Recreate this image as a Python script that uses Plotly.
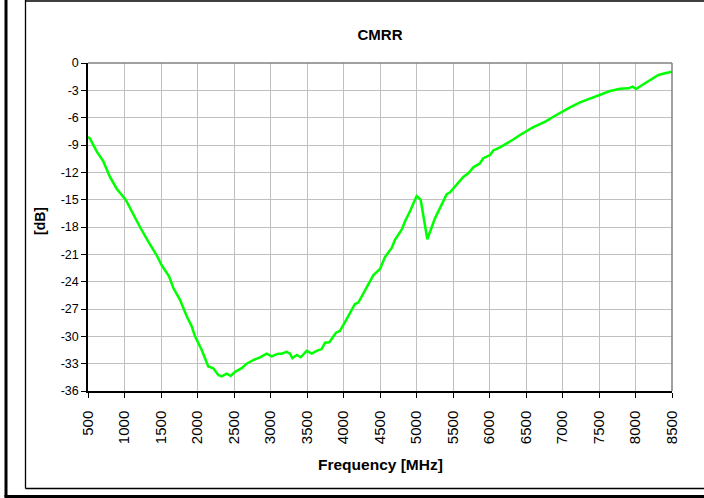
import plotly.graph_objects as go

freq_mhz = [500, 527, 619, 710, 801, 893, 1016, 1098, 1212, 1326, 1441, 1510, 1610, 1669, 1760,
            1852, 1920, 1966, 2058, 2148, 2216, 2285, 2331, 2400, 2455, 2514, 2605, 2674, 2765,
            2856, 2948, 3016, 3107, 3153, 3222, 3267, 3299, 3360, 3414, 3496, 3564, 3633, 3701,
            3747, 3806, 3897, 3952, 4043, 4157, 4203, 4317, 4408, 4500, 4568, 4660, 4705, 4797,
            4842, 4920, 5002, 5057, 5148, 5253, 5345, 5414, 5460, 5551, 5641, 5710, 5779, 5870,
            5915, 6007, 6052, 6143, 6258, 6326, 6418, 6509, 6600, 6692, 6783, 6874, 6966, 7103,
            7240, 7377, 7514, 7651, 7788, 7902, 7962, 8008, 8108, 8200, 8314, 8405, 8500]
cmrr_db = [-8.1, -8.3, -9.7, -10.8, -12.5, -13.8, -15.0, -16.3, -18.0, -19.6, -21.1, -22.2, -23.4,
           -24.7, -26.0, -27.8, -28.9, -30.0, -31.5, -33.3, -33.5, -34.25, -34.4, -34.1, -34.35,
           -33.9, -33.5, -33.0, -32.6, -32.3, -31.9, -32.2, -31.9, -31.9, -31.7, -31.9, -32.4,
           -32.05, -32.3, -31.6, -31.9, -31.6, -31.4, -30.7, -30.65, -29.6, -29.4, -28.1, -26.45,
           -26.3, -24.7, -23.3, -22.6, -21.3, -20.3, -19.4, -18.3, -17.4, -16.1, -14.6, -15.0,
           -19.35, -17.05, -15.6, -14.4, -14.2, -13.4, -12.5, -12.1, -11.45, -11.0, -10.45, -10.1,
           -9.6, -9.25, -8.75, -8.4, -7.9, -7.45, -7.05, -6.7, -6.35, -5.9, -5.45, -4.87, -4.32,
           -3.88, -3.44, -3.07, -2.82, -2.78, -2.6, -2.85, -2.34, -1.87, -1.32, -1.13, -0.95]

x_ticks = list(range(500, 8501, 500))
y_ticks = list(range(-36, 1, 3))

title_text = "CMRR"
x_title = "Frequency [MHz]"
y_title = "[dB]"

fig = go.Figure()
fig.add_trace(go.Scatter(x=freq_mhz, y=cmrr_db, mode="lines",
                         line=dict(color="#00ff00", width=2.5), showlegend=False))

L, R, T, B = 88, 32, 63, 107
W, H = 704, 498
pw, ph = W - L - R, H - T - B

def px(xp):
    return (xp - L) / pw

def py(yp):
    return (H - B - yp) / ph

font = "Liberation Sans, Arial, sans-serif"

fig.update_layout(
    width=W, height=H,
    margin=dict(l=L, r=R, t=T, b=B, pad=0),
    paper_bgcolor="white", plot_bgcolor="white",
    title=dict(text="<b>" + title_text + "</b>", xref="paper", x=0.5, xanchor="center",
               yref="container", y=1 - 35 / H, yanchor="middle",
               font=dict(family=font, size=15, color="black")),
    font=dict(family=font, size=12, color="black"),
    xaxis=dict(range=[500, 8500], tickvals=x_ticks, ticktext=[str(v) for v in x_ticks],
               tickangle=-90, showgrid=True, gridcolor="#c0c0c0", gridwidth=1,
               showline=True, linecolor="black", linewidth=1.5,
               ticks="outside", ticklen=5, tickcolor="black", zeroline=False,
               ticklabelstandoff=7,
               tickfont=dict(family=font, size=15)),
    yaxis=dict(range=[-36, 0], tickvals=y_ticks, ticktext=[str(v) for v in y_ticks],
               showgrid=True, gridcolor="#c0c0c0", gridwidth=1,
               showline=True, linecolor="black", linewidth=1.5,
               ticks="outside", ticklen=5, tickcolor="black", zeroline=False,
               tickfont=dict(family=font, size=12.5)),
    annotations=[
        dict(text="<b>" + x_title + "</b>", xref="paper", yref="paper",
             x=px(380), y=py(464), xanchor="center", yanchor="middle", showarrow=False,
             font=dict(family=font, size=15.5, color="black")),
        dict(text="<b>" + y_title + "</b>", xref="paper", yref="paper",
             x=px(40), y=py(221), xanchor="center", yanchor="middle", showarrow=False,
             textangle=-90, font=dict(family=font, size=14, color="black")),
    ],
)

shapes = [
    dict(type="line", xref="paper", yref="paper", x0=0, x1=1, y0=1, y1=1,
         line=dict(color="#808080", width=1.5)),
    dict(type="line", xref="paper", yref="paper", x0=1, x1=1, y0=0, y1=1,
         line=dict(color="#808080", width=1.5)),
    dict(type="line", xref="paper", yref="paper", x0=px(25.5), x1=px(710), y0=py(1), y1=py(1),
         line=dict(color="#404040", width=2)),
    dict(type="line", xref="paper", yref="paper", x0=px(25.5), x1=px(25.5), y0=py(0), y1=py(488.5),
         line=dict(color="black", width=1.3)),
    dict(type="line", xref="paper", yref="paper", x0=px(25.5), x1=px(710), y0=py(488.5), y1=py(488.5),
         line=dict(color="black", width=1.3)),
    dict(type="line", xref="paper", yref="paper", x0=px(6), x1=px(6), y0=py(0), y1=py(497),
         line=dict(color="black", width=3)),
    dict(type="line", xref="paper", yref="paper", x0=px(4.5), x1=px(710), y0=py(496.5), y1=py(496.5),
         line=dict(color="black", width=3)),
]
fig.update_layout(shapes=shapes)

fig.write_html("out.html", config={"displayModeBar": False},
               post_script="document.body.style.margin='0';document.body.style.overflow='hidden';")
